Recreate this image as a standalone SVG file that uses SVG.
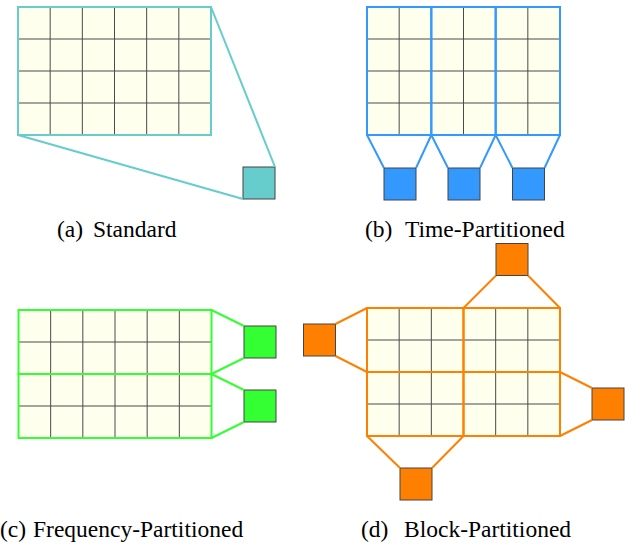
<svg xmlns="http://www.w3.org/2000/svg" width="644" height="546" viewBox="0 0 644 546">
<style>
.bg{fill:#FFFFEE;stroke:none}
.cell{stroke:#4a4a4a;stroke-width:1;fill:none}
.part{fill:none;stroke-width:2}
.box{stroke:#444;stroke-width:1}
.lbl{font-size:23.5px;fill:#000}
.teal{stroke:#66CCCC}
.blue{stroke:#3399FF}
.green{stroke:#33FF33}
.orange{stroke:#FF8000}
</style>
<defs>
<g id="grid">
<rect class="bg" x="0" y="0" width="193" height="128"/>
<path class="cell" d="M32.17 0V128M64.33 0V128M96.5 0V128M128.67 0V128M160.83 0V128M0 32H193M0 64H193M0 96H193"/>
</g>
</defs>

<!-- (a) Standard -->
<g id="standard">
<use href="#grid" x="18" y="7"/>
<rect class="part teal" x="18" y="7" width="193" height="128"/>
<rect id="a-out" class="box" x="243" y="167" width="32" height="32" fill="#66CCCC"/>
</g>

<!-- (b) Time-Partitioned -->
<g id="time-partitioned">
<use href="#grid" x="367" y="7"/>
<rect class="part blue" x="367" y="7" width="64.33" height="128"/>
<rect class="part blue" x="431.33" y="7" width="64.33" height="128"/>
<rect class="part blue" x="495.67" y="7" width="64.33" height="128"/>
<rect id="b-out1" class="box" x="384" y="168" width="32" height="32" fill="#3399FF"/>
<rect id="b-out2" class="box" x="448" y="168" width="32" height="32" fill="#3399FF"/>
<rect id="b-out3" class="box" x="512.5" y="168" width="32" height="32" fill="#3399FF"/>
</g>

<!-- (c) Frequency-Partitioned -->
<g id="frequency-partitioned">
<use href="#grid" x="18.5" y="310"/>
<rect class="part green" x="18.5" y="310" width="193" height="64"/>
<rect class="part green" x="18.5" y="374" width="193" height="64"/>
<rect id="c-out1" class="box" x="244" y="326" width="32" height="32" fill="#33FF33"/>
<rect id="c-out2" class="box" x="244" y="390" width="32" height="32" fill="#33FF33"/>
</g>

<!-- (d) Block-Partitioned -->
<g id="block-partitioned">
<use href="#grid" x="367" y="308"/>
<rect class="part orange" x="367" y="308" width="96.5" height="64"/>
<rect class="part orange" x="463.5" y="308" width="96.5" height="64"/>
<rect class="part orange" x="367" y="372" width="96.5" height="64"/>
<rect class="part orange" x="463.5" y="372" width="96.5" height="64"/>
<rect id="d-out-top" class="box" x="496" y="243.5" width="32" height="32" fill="#FF8000"/>
<rect id="d-out-left" class="box" x="303.5" y="324" width="32" height="32" fill="#FF8000"/>
<rect id="d-out-right" class="box" x="592" y="388" width="32" height="32" fill="#FF8000"/>
<rect id="d-out-bottom" class="box" x="400" y="468" width="32" height="32" fill="#FF8000"/>
</g>

<!-- connectors -->
<g id="connectors" fill="none" stroke-width="2">
<path class="teal" d="M211 7L275 167M18 135L243 199"/>
<path class="blue" d="M367 135L384 168M431.33 135L416 168M431.33 135L448 168M495.67 135L480 168M495.67 135L512.5 168M560 135L544.5 168"/>
<path class="green" d="M211.5 310L244 326M211.5 374L244 358M211.5 374L244 390M211.5 438L244 422"/>
<path class="orange" d="M463.5 308L496 275.5M560 308L528 275.5M367 308L335.5 324M367 372L335.5 356M560 372L592 388M560 436L592 420M367 436L400 468M463.5 436L432 468"/>
</g>

<!-- labels -->
<g id="labels" font-family="'Liberation Serif', 'DejaVu Serif', serif">
<text class="lbl" x="57" y="236.5">(a)<tspan x="93">Standard</tspan></text>
<text class="lbl" x="365" y="236.5">(b)<tspan x="405">Time-Partitioned</tspan></text>
<text class="lbl" x="0" y="536.5">(c)<tspan x="33">Frequency-Partitioned</tspan></text>
<text class="lbl" x="361" y="536.5">(d)<tspan x="404">Block-Partitioned</tspan></text>
</g>
</svg>
